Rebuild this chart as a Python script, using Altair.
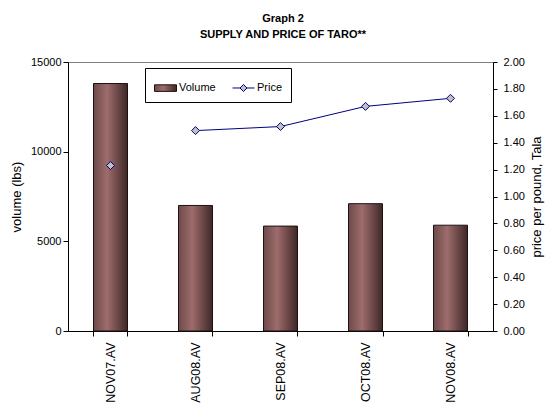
import altair as alt
import pandas as pd

# Monthly averages of taro supply and price
categories = ["NOV07.AV", "AUG08.AV", "SEP08.AV", "OCT08.AV", "NOV08.AV"]
volume_lbs = [13800, 7000, 5850, 7100, 5900]
price_tala = [1.23, 1.49, 1.52, 1.67, 1.73]
# price line runs: Nov 2007 stands alone, 2008 months are joined
price_run = ["2007", "2008", "2008", "2008", "2008"]
series_names = ["Volume", "Price"]

volume_ticks = [0, 5000, 10000, 15000]
price_ticks = [0.0, 0.2, 0.4, 0.6, 0.8, 1.0, 1.2, 1.4, 1.6, 1.8, 2.0]

df = pd.DataFrame({
    "period": categories,
    "volume": volume_lbs,
    "price": price_tala,
    "run": price_run,
    "line_series": [series_names[1]] * len(categories),
})

FONT = "Liberation Sans"
BAR_EDGE_L = "#6e4a4a"
BAR_MID = "#9e6c6c"
BAR_EDGE_R = "#3f2727"
BAR_OUTLINE = "#1c1212"
NAVY = "#000080"
MARKER_FILL = "#c0c0c0"

bar_fill = alt.Gradient(
    gradient="linear",
    x1=0, y1=0, x2=1, y2=0,
    stops=[
        alt.GradientStop(offset=0, color=BAR_EDGE_L),
        alt.GradientStop(offset=0.4, color=BAR_MID),
        alt.GradientStop(offset=1, color=BAR_EDGE_R),
    ],
)

# legend swatches: a wide brown bar for Volume, a line with a diamond for Price
legend_fill = (
    f"datum.value === 'Volume' ? "
    f"{{gradient: 'linear', x1: 0, y1: 0, x2: 1, y2: 0, stops: ["
    f"{{offset: 0, color: '{BAR_EDGE_L}'}}, {{offset: 0.4, color: '{BAR_MID}'}}, "
    f"{{offset: 1, color: '{BAR_EDGE_R}'}}]}} : '{MARKER_FILL}'"
)
legend_shape = (
    "datum.value === 'Volume' ? 'M-1,-0.3L1,-0.3L1,0.3L-1,0.3Z' : "
    "'M-1,0L-0.32,0M0.32,0L1,0M0,-0.32L0.32,0L0,0.32L-0.32,0Z'"
)

x_enc = alt.X(
    "period:N",
    sort=categories,
    scale=alt.Scale(paddingInner=0.6, paddingOuter=0.3),
    axis=alt.Axis(
        title=None,
        labelAngle=270,
        labelFontSize=12.5,
        tickBand="extent",
        tickSize=5,
        labelPadding=6,
    ),
)

bars = alt.Chart(df).mark_bar(fill=bar_fill, stroke=BAR_OUTLINE, strokeWidth=1).encode(
    x=x_enc,
    y=alt.Y(
        "volume:Q",
        scale=alt.Scale(domain=[0, 15000]),
        axis=alt.Axis(
            values=volume_ticks,
            format="d",
            title="volume (lbs)",
            orient="left",
            tickSize=5,
            labelPadding=2,
            titlePadding=7,
        ),
    ),
)

price_y = alt.Y(
    "price:Q",
    scale=alt.Scale(domain=[0, 2]),
    axis=alt.Axis(
        values=price_ticks,
        format=".2f",
        title="price per pound, Tala",
        orient="right",
        titleAngle=270,
        titleBaseline="top",
        tickSize=4,
        labelPadding=6,
        titlePadding=6,
    ),
)

price_line = alt.Chart(df).mark_line(strokeWidth=1).encode(
    x=alt.X("period:N", sort=categories),
    y=price_y,
    detail="run:N",
    stroke=alt.Stroke(
        "line_series:N",
        scale=alt.Scale(domain=series_names, range=[BAR_OUTLINE, NAVY]),
        legend=alt.Legend(
            title=None,
            orient="none",
            legendX=77,
            legendY=6,
            direction="horizontal",
            padding=8,
            strokeColor="black",
            fillColor="white",
            labelFont=FONT,
            labelFontSize=11,
            labelColor="black",
            labelOffset=2,
            symbolOffset=1,
            columnPadding=14,
            symbolSize=484,
            symbolStrokeWidth=1,
            symbolType=alt.ExprRef(expr=legend_shape),
            symbolFillColor=alt.ExprRef(expr=legend_fill),
        ),
    ),
)

price_points = alt.Chart(df).mark_point(
    shape="diamond",
    filled=True,
    fill=MARKER_FILL,
    stroke=NAVY,
    strokeWidth=1,
    size=64,
    opacity=1,
).encode(
    x=alt.X("period:N", sort=categories),
    y=price_y,
)

chart = (
    alt.layer(bars, alt.layer(price_line, price_points))
    .resolve_scale(y="independent")
    .properties(
        width=425,
        height=269,
        padding={"left": 68, "top": 62, "right": 55, "bottom": 77},
        autosize=alt.AutoSizeParams(type="none"),
        title=alt.Title(
            ["Graph 2", "SUPPLY AND PRICE OF TARO**"],
            font=FONT,
            fontSize=11,
            fontWeight="bold",
            color="black",
            anchor="middle",
            offset=16,
            lineHeight=16,
            dx=2.5,
        ),
    )
    .configure(background="white")
    .configure_view(stroke="#808080", strokeWidth=1)
    .configure_axis(
        labelFont=FONT,
        labelFontSize=11,
        labelColor="black",
        titleFont=FONT,
        titleFontSize=13,
        titleFontWeight="normal",
        titleColor="black",
        domainColor="black",
        tickColor="black",
        grid=False,
    )
)

chart.save("out.html", embed_options={"renderer": "svg", "actions": False})
